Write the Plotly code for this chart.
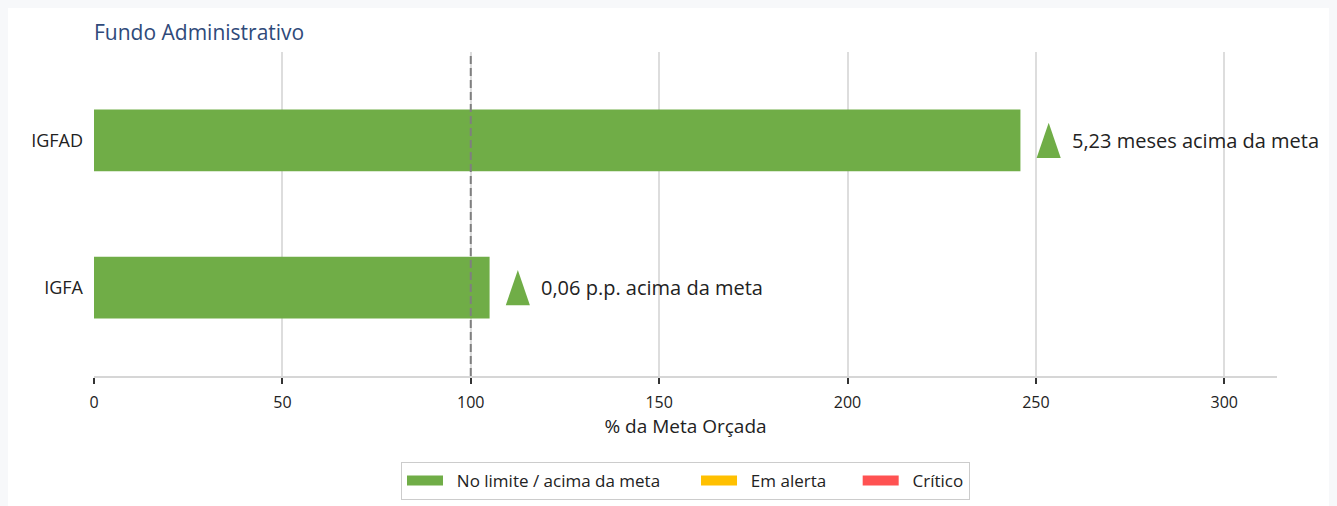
import plotly.graph_objects as go

categories = ["IGFA", "IGFAD"]
values = [105.0, 245.9]
annotations_text = ["0,06 p.p. acima da meta", "5,23 meses acima da meta"]
legend_labels = ["No limite / acima da meta", "Em alerta", "Crítico"]
legend_colors = ["#70ad47", "#ffc000", "#ff5252"]
meta = 100
x_ticks = [0, 50, 100, 150, 200, 250, 300]

GREEN = "#70ad47"
FONT = "Open Sans"
TRI_OFFSET = 7.5     # x distance of triangle centre from bar end (data units)
TRI_HALF_W = 3.2     # data units
TRI_HALF_H = 0.12    # data units
BAR_W = 0.42
NB = "\u00a0"
LEGEND_TRAIL = [7, 6, 0]

W, H = 1329, 498
L, R, T, B = 86, 60, 44, 130

fig = go.Figure()
ypos = list(range(len(categories)))

fig.add_trace(go.Bar(
    x=values, y=ypos, orientation="h", width=BAR_W,
    marker=dict(color=GREEN, line=dict(width=0)),
    showlegend=False, hoverinfo="x+y",
))

for yi, v in zip(ypos, values):
    cx = v + TRI_OFFSET
    fig.add_trace(go.Scatter(
        x=[cx - TRI_HALF_W, cx + TRI_HALF_W, cx, cx - TRI_HALF_W],
        y=[yi - TRI_HALF_H, yi - TRI_HALF_H, yi + TRI_HALF_H, yi - TRI_HALF_H],
        mode="lines", fill="toself", fillcolor=GREEN,
        line=dict(color=GREEN, width=0), showlegend=False, hoverinfo="skip",
    ))

annots = []
for yi, v, t in zip(ypos, values, annotations_text):
    annots.append(dict(
        x=v + TRI_OFFSET, y=yi, xref="x", yref="y", text=t, showarrow=False,
        xanchor="left", yanchor="middle", xshift=21,
        font=dict(family=FONT, size=20, color="#222222"),
    ))

for lab, col, trail in zip(legend_labels, legend_colors, LEGEND_TRAIL):
    name = NB * 2 + lab + NB * trail
    fig.add_trace(go.Scatter(
        x=[None], y=[None], mode="lines", name=name,
        line=dict(color=col, width=12),
    ))

fig.add_vline(x=meta, line=dict(color="#7f7f7f", width=2, dash="8px,4px"), layer="above")

fig.update_layout(
    width=W, height=H,
    margin=dict(l=L, r=R, t=T, b=B, autoexpand=False),
    paper_bgcolor="white", plot_bgcolor="white",
    font=dict(family=FONT, color="#222222"),
    title=dict(text="Fundo Administrativo", x=0.0647, xref="container", xanchor="left",
               y=1 - 25 / H, yref="container", yanchor="middle",
               font=dict(family=FONT, size=21, color="#2f4a7a")),
    annotations=annots,
    showlegend=True,
    legend=dict(orientation="h", x=0.5, xanchor="center",
                yref="container", y=1 - (462 - 8) / H, yanchor="top",
                bordercolor="#cccccc", borderwidth=1, bgcolor="white", itemwidth=36,
                font=dict(family=FONT, size=17, color="#222222"),
                itemclick=False, itemdoubleclick=False),
    xaxis=dict(range=[0, 314], tickvals=x_ticks, showgrid=True, gridcolor="#dddddd",
               gridwidth=1.5, zeroline=False, showline=True, linecolor="#d6d6d6",
               linewidth=2, ticks="outside", ticklen=6, tickwidth=1.5, tickcolor="#333333",
               automargin=False, ticklabelstandoff=5,
               tickfont=dict(family=FONT, size=16, color="#222222"),
               title=dict(text="% da Meta Orçada", standoff=6,
                          font=dict(family=FONT, size=19, color="#222222"))),
    yaxis=dict(range=[-0.6, 1.6], tickvals=ypos, ticktext=categories, showgrid=False,
               zeroline=False, showline=False, ticks="", ticklabelstandoff=10,
               automargin=False,
               tickfont=dict(family=FONT, size=18, color="#222222")),
)

fig.write_html(
    "out.html",
    post_script="document.body.style.background='#f7f8fa';document.body.style.overflow='hidden';",
)
